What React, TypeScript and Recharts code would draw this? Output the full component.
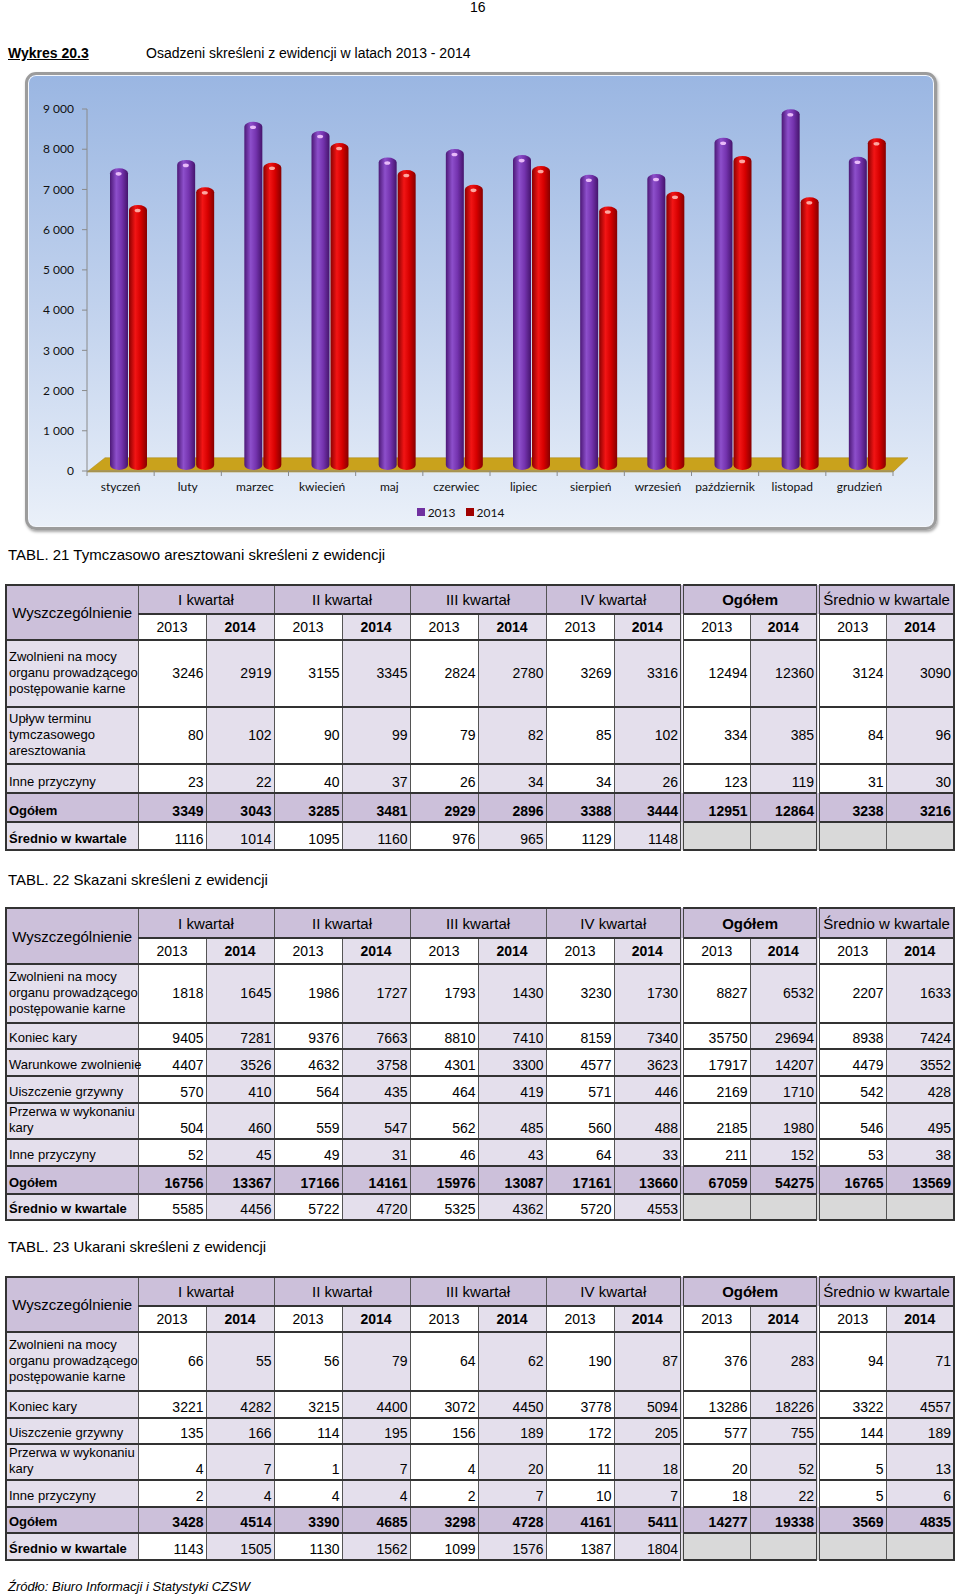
import React from 'react'
import { BarChart, Bar, XAxis, YAxis, Legend, ReferenceArea } from 'recharts'

const MONTHS = ['styczeń', 'luty', 'marzec', 'kwiecień', 'maj', 'czerwiec', 'lipiec', 'sierpień', 'wrzesień', 'październik', 'listopad', 'grudzień']
const VALUES_2013 = [7400, 7610, 8560, 8330, 7670, 7880, 7730, 7240, 7260, 8160, 8870, 7690]
const VALUES_2014 = [6490, 6930, 7540, 8030, 7360, 6990, 7460, 6450, 6820, 7710, 6680, 8150]
const Y_TICKS = [0, 1000, 2000, 3000, 4000, 5000, 6000, 7000, 8000, 9000]

const GROUP_HEADS = ['I kwartał', 'II kwartał', 'III kwartał', 'IV kwartał', 'Ogółem', 'Średnio w kwartale']
const YEARS = ['2013', '2014']

// TABL. 21
const T21_LABELS = [
  'Zwolnieni na mocy\norganu prowadzącego\npostępowanie karne',
  'Upływ terminu\ntymczasowego\naresztowania',
  'Inne przyczyny',
  'Ogółem',
  'Średnio w kwartale',
]
const T21_VALUES = [
  [3246, 2919, 3155, 3345, 2824, 2780, 3269, 3316, 12494, 12360, 3124, 3090],
  [80, 102, 90, 99, 79, 82, 85, 102, 334, 385, 84, 96],
  [23, 22, 40, 37, 26, 34, 34, 26, 123, 119, 31, 30],
  [3349, 3043, 3285, 3481, 2929, 2896, 3388, 3444, 12951, 12864, 3238, 3216],
  [1116, 1014, 1095, 1160, 976, 965, 1129, 1148],
]

// TABL. 22
const T22_LABELS = [
  'Zwolnieni na mocy\norganu prowadzącego\npostępowanie karne',
  'Koniec kary',
  'Warunkowe zwolnienie',
  'Uiszczenie grzywny',
  'Przerwa w wykonaniu\nkary',
  'Inne przyczyny',
  'Ogółem',
  'Średnio w kwartale',
]
const T22_VALUES = [
  [1818, 1645, 1986, 1727, 1793, 1430, 3230, 1730, 8827, 6532, 2207, 1633],
  [9405, 7281, 9376, 7663, 8810, 7410, 8159, 7340, 35750, 29694, 8938, 7424],
  [4407, 3526, 4632, 3758, 4301, 3300, 4577, 3623, 17917, 14207, 4479, 3552],
  [570, 410, 564, 435, 464, 419, 571, 446, 2169, 1710, 542, 428],
  [504, 460, 559, 547, 562, 485, 560, 488, 2185, 1980, 546, 495],
  [52, 45, 49, 31, 46, 43, 64, 33, 211, 152, 53, 38],
  [16756, 13367, 17166, 14161, 15976, 13087, 17161, 13660, 67059, 54275, 16765, 13569],
  [5585, 4456, 5722, 4720, 5325, 4362, 5720, 4553],
]

// TABL. 23
const T23_LABELS = [
  'Zwolnieni na mocy\norganu prowadzącego\npostępowanie karne',
  'Koniec kary',
  'Uiszczenie grzywny',
  'Przerwa w wykonaniu\nkary',
  'Inne przyczyny',
  'Ogółem',
  'Średnio w kwartale',
]
const T23_VALUES = [
  [66, 55, 56, 79, 64, 62, 190, 87, 376, 283, 94, 71],
  [3221, 4282, 3215, 4400, 3072, 4450, 3778, 5094, 13286, 18226, 3322, 4557],
  [135, 166, 114, 195, 156, 189, 172, 205, 577, 755, 144, 189],
  [4, 7, 1, 7, 4, 20, 11, 18, 20, 52, 5, 13],
  [2, 4, 4, 4, 2, 7, 10, 7, 18, 22, 5, 6],
  [3428, 4514, 3390, 4685, 3298, 4728, 4161, 5411, 14277, 19338, 3569, 4835],
  [1143, 1505, 1130, 1562, 1099, 1576, 1387, 1804],
]

const chartData = MONTHS.map((m, i) => ({ month: m, y2013: VALUES_2013[i], y2014: VALUES_2014[i] }))

const CHART_FONT = 'Lato, "Open Sans", sans-serif'
const TABLE_FONT = '"Liberation Sans", Arial, sans-serif'
const BAND = (906 - 59 - 41) / 12

const fmt = (v: number) => String(v).replace(/\B(?=(\d{3})+(?!\d))/g, ' ')

const makeCylinder = (grad: string, glow: string) => (props: any) => {
  const { x, y, width, height } = props
  if (height == null || height <= 0) return null
  const gx = x + 8
  return (
    <g>
      <rect x={gx} y={y - 5} width={width} height={height + 4} rx={width / 2} ry={5} fill={`url(#${grad})`} />
      <ellipse cx={gx + width * 0.48} cy={y + 0.5} rx={3} ry={1.8} fill={glow} opacity={0.9} />
    </g>
  )
}

const Floor = (props: any) => {
  const { x, y, width, height } = props
  const pts = `${x},${y + height + 1} ${x + width},${y + height + 1} ${x + width + 15},${y} ${x + 18},${y}`
  return <polygon points={pts} fill="#c9a21c" stroke="#a88510" strokeWidth={0.5} />
}

const MonthTick = (props: any) => {
  const { x, y, payload, index } = props
  return (
    <g>
      {index === 0 && <line x1={x - BAND / 2} y1={y} x2={x - BAND / 2} y2={y + 5} stroke="#8a8a8a" />}
      <line x1={x + BAND / 2} y1={y} x2={x + BAND / 2} y2={y + 5} stroke="#8a8a8a" />
      <text x={x} y={y + 17} textAnchor="middle" dominantBaseline="middle" fontSize={12} fill="#111" fontFamily={CHART_FONT}>
        {payload.value}
      </text>
    </g>
  )
}

const LegendContent = () => (
  <div style={{ display: 'flex', justifyContent: 'center', alignItems: 'center', height: 22, fontSize: 12, fontFamily: CHART_FONT, color: '#111' }}>
    <span style={{ display: 'inline-block', width: 8, height: 8, background: '#7030a0', marginRight: 3 }} />
    <span style={{ marginRight: 10 }}>2013</span>
    <span style={{ display: 'inline-block', width: 8, height: 8, background: '#a00000', marginRight: 3 }} />
    <span>2014</span>
  </div>
)

const H_LINE = '2px solid #333'
const V_LINE = '1px solid #555'
const DOUBLE = '4px double #444'
const LAV = '#ccc0da'
const LAV_LIGHT = '#e4dfec'
const GRAY = '#d9d9d9'

type TableProps = { top: number; labels: string[]; values: number[][]; heights: number[] }

const DataTable = ({ top, labels, values, heights }: TableProps) => {
  const leftBorder = (c: number) => (c === 8 || c === 10 ? DOUBLE : V_LINE)
  const base: React.CSSProperties = { borderTop: H_LINE, borderBottom: H_LINE, padding: 0 }
  return (
    <table
      style={{
        position: 'absolute', left: 5, top, width: 948, borderCollapse: 'collapse', tableLayout: 'fixed',
        fontFamily: TABLE_FONT, color: '#000', border: H_LINE,
      }}
    >
      <colgroup>
        <col style={{ width: 132 }} />
        {Array.from({ length: 12 }).map((_, i) => <col key={i} style={{ width: 68 }} />)}
      </colgroup>
      <tbody>
        <tr style={{ height: heights[0] }}>
          <td rowSpan={2} style={{ ...base, background: LAV, textAlign: 'center', fontSize: 15, borderRight: V_LINE }}>Wyszczególnienie</td>
          {GROUP_HEADS.map((h, g) => (
            <td
              key={h}
              colSpan={2}
              style={{
                ...base, background: LAV, textAlign: 'center', fontSize: 15, whiteSpace: 'nowrap',
                fontWeight: g === 4 ? 'bold' : 'normal', borderLeft: leftBorder(g * 2),
              }}
            >
              {h}
            </td>
          ))}
        </tr>
        <tr style={{ height: heights[1] }}>
          {Array.from({ length: 12 }).map((_, c) => (
            <td
              key={c}
              style={{
                ...base, textAlign: 'center', fontSize: 14, background: c % 2 ? LAV_LIGHT : '#fff',
                fontWeight: c % 2 ? 'bold' : 'normal', borderLeft: leftBorder(c),
              }}
            >
              {YEARS[c % 2]}
            </td>
          ))}
        </tr>
        {labels.map((label, r) => {
          const isTotal = label === 'Ogółem'
          const isAvg = label === 'Średnio w kwartale'
          const multi = label.split('\n').length > 2
          const va = multi ? 'middle' : 'bottom'
          return (
            <tr key={r} style={{ height: heights[r + 2] }}>
              <td
                style={{
                  ...base, background: isTotal ? LAV : LAV_LIGHT, fontSize: 13, lineHeight: '16px', whiteSpace: 'pre',
                  paddingLeft: 2, paddingBottom: 2, verticalAlign: va, fontWeight: isTotal || isAvg ? 'bold' : 'normal',
                  borderRight: V_LINE, overflow: 'visible',
                }}
              >
                {label}
              </td>
              {Array.from({ length: 12 }).map((_, c) => {
                const v = values[r][c]
                const bg = isTotal ? LAV : v === undefined ? GRAY : c % 2 ? LAV_LIGHT : '#fff'
                return (
                  <td
                    key={c}
                    style={{
                      ...base, background: bg, textAlign: 'right', fontSize: 14, paddingRight: 2, paddingBottom: 2,
                      verticalAlign: va, fontWeight: isTotal ? 'bold' : 'normal', borderLeft: leftBorder(c),
                    }}
                  >
                    {v === undefined ? '' : v}
                  </td>
                )
              })}
            </tr>
          )
        })}
      </tbody>
    </table>
  )
}

const textAt = (top: number, left: number, size: number, extra: React.CSSProperties = {}) =>
  ({ position: 'absolute', top, left, fontSize: size, fontFamily: TABLE_FONT, whiteSpace: 'nowrap', lineHeight: 1, ...extra }) as React.CSSProperties

const App: React.FC = () => {
  return (
    <div style={{ position: 'absolute', left: 0, top: 0, width: 960, height: 1595, background: '#fff', overflow: 'hidden' }}>
      <div style={textAt(0, 470, 14)}>16</div>
      <div style={textAt(46, 8, 14, { fontWeight: 'bold', textDecoration: 'underline' })}>Wykres 20.3</div>
      <div style={textAt(46, 146, 14)}>Osadzeni skreśleni z ewidencji w latach 2013 - 2014</div>

      <div
        style={{
          position: 'absolute', left: 25, top: 72, width: 912, height: 458, boxSizing: 'border-box',
          border: '3px solid #9c9c9c', borderRadius: 11,
          background: 'linear-gradient(to bottom, #9ab6e2 0%, #c4d4ee 55%, #eaf0f9 100%)',
          boxShadow: 'inset 0 0 0 1px #f4f7fc, 1px 2px 3px rgba(0,0,0,0.35)',
        }}
      >
        <BarChart width={906} height={452} data={chartData} margin={{ top: 34, right: 41, left: 0, bottom: 4 }} barSize={18} barGap={1}>
          <defs>
            <linearGradient id="gPurple" x1="0" y1="0" x2="1" y2="0">
              <stop offset="0%" stopColor="#4c1876" />
              <stop offset="35%" stopColor="#8d4fcb" />
              <stop offset="65%" stopColor="#7433ae" />
              <stop offset="100%" stopColor="#45146c" />
            </linearGradient>
            <linearGradient id="gRed" x1="0" y1="0" x2="1" y2="0">
              <stop offset="0%" stopColor="#8c0000" />
              <stop offset="35%" stopColor="#f21515" />
              <stop offset="65%" stopColor="#d60000" />
              <stop offset="100%" stopColor="#860000" />
            </linearGradient>
          </defs>
          <ReferenceArea y1={0} y2={330} ifOverflow="visible" shape={Floor} />
          <XAxis dataKey="month" interval={0} tickSize={0} tickMargin={0} tickLine={false} axisLine={{ stroke: '#8a8a8a' }} height={30} tick={<MonthTick />} />
          <YAxis
            domain={[0, 9000]}
            ticks={Y_TICKS}
            interval={0}
            width={59}
            tickSize={5}
            tickMargin={8}
            tickFormatter={fmt}
            axisLine={{ stroke: '#8a8a8a' }}
            tickLine={{ stroke: '#8a8a8a' }}
            tick={{ fontSize: 12, fill: '#111', fontFamily: CHART_FONT }}
          />
          <Legend verticalAlign="bottom" height={22} content={<LegendContent />} />
          <Bar dataKey="y2013" name="2013" fill="#7030a0" isAnimationActive={false} shape={makeCylinder('gPurple', '#f3c8ff')} />
          <Bar dataKey="y2014" name="2014" fill="#c00000" isAnimationActive={false} shape={makeCylinder('gRed', '#ffb8b0')} />
        </BarChart>
      </div>

      <div style={textAt(547, 8, 15)}>TABL. 21 Tymczasowo aresztowani skreśleni z ewidencji</div>
      <DataTable top={584} labels={T21_LABELS} values={T21_VALUES} heights={[29, 26, 67, 57, 29, 29, 28]} />

      <div style={textAt(872, 8, 15)}>TABL. 22 Skazani skreśleni z ewidencji</div>
      <DataTable top={907} labels={T22_LABELS} values={T22_VALUES} heights={[30, 26, 59, 26, 27, 27, 35, 27, 28, 26]} />

      <div style={textAt(1239, 8, 15)}>TABL. 23 Ukarani skreśleni z ewidencji</div>
      <DataTable top={1276} labels={T23_LABELS} values={T23_VALUES} heights={[29, 26, 59, 27, 26, 34, 27, 26, 27]} />

      <div style={textAt(1580, 8, 13, { fontStyle: 'italic' })}>Źródło: Biuro Informacji i Statystyki CZSW</div>
    </div>
  )
}

export default App
